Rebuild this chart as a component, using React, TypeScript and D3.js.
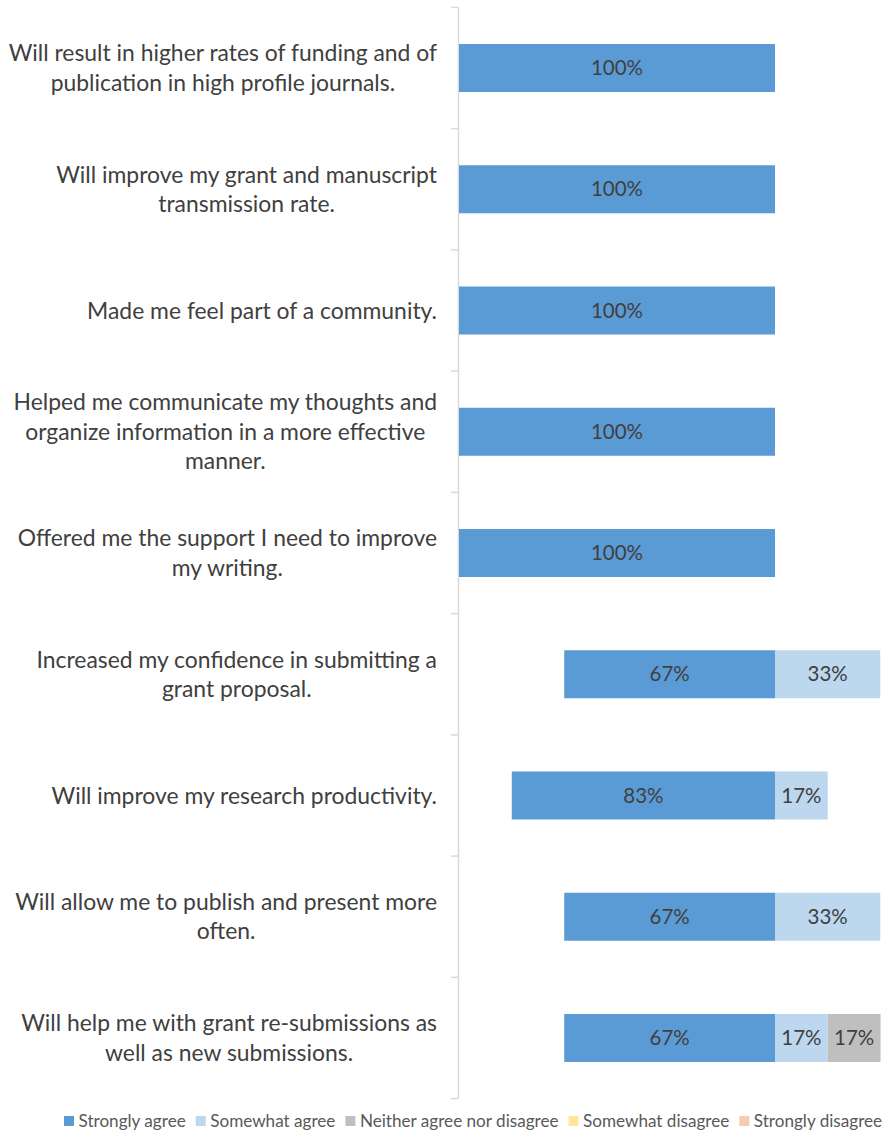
import React, { useEffect, useRef } from "react";
import * as d3 from "d3";

const categories = [
  "Will result in higher rates of funding and of\npublication in high profile journals.",
  "Will improve my grant and manuscript\ntransmission rate.",
  "Made me feel part of a community.",
  "Helped me communicate my thoughts and\norganize information in a more effective\nmanner.",
  "Offered me the support I need to improve\nmy writing.",
  "Increased my confidence in submitting a\ngrant proposal.",
  "Will improve my research productivity.",
  "Will allow me to publish and present more\noften.",
  "Will help me with grant re-submissions as\nwell as new submissions.",
];
const stronglyAgree = [100, 100, 100, 100, 100, 66.7, 83.3, 66.7, 66.7];
const somewhatAgree = [0, 0, 0, 0, 0, 33.3, 16.7, 33.3, 16.7];
const neither = [0, 0, 0, 0, 0, 0, 0, 0, 16.7];
const somewhatDisagree = [0, 0, 0, 0, 0, 0, 0, 0, 0];
const stronglyDisagree = [0, 0, 0, 0, 0, 0, 0, 0, 0];
const seriesNames = [
  "Strongly agree",
  "Somewhat agree",
  "Neither agree nor disagree",
  "Somewhat disagree",
  "Strongly disagree",
];
const colors = ["#5B9BD5", "#BDD7EE", "#BFBFBF", "#FFE699", "#F8CBAD"];

const W = 889;
const H = 1134;
const FONT = "Lato, 'Open Sans', sans-serif";

export default function App() {
  const ref = useRef<SVGSVGElement>(null);
  useEffect(() => {
    const svg = d3.select(ref.current);
    svg.selectAll("*").remove();

    const x = d3.scaleLinear().domain([-100, 0]).range([459, 775]);
    const y = d3
      .scaleBand<number>()
      .domain(d3.range(categories.length))
      .range([7.4, 1098.6])
      .paddingInner(0.604)
      .paddingOuter(0.302);

    svg
      .append("line")
      .attr("x1", 458.5)
      .attr("x2", 458.5)
      .attr("y1", y.range()[0])
      .attr("y2", y.range()[1])
      .attr("stroke", "#D9D9D9")
      .attr("stroke-width", 1.5);
    const step = y.step();
    const ticks = d3.range(categories.length + 1).map((i) => y.range()[0] + i * step);
    svg
      .selectAll("line.tick")
      .data(ticks)
      .enter()
      .append("line")
      .attr("class", "tick")
      .attr("x1", 451)
      .attr("x2", 458.5)
      .attr("y1", (d) => d)
      .attr("y2", (d) => d)
      .attr("stroke", "#D9D9D9")
      .attr("stroke-width", 1.5);

    const allSeries = [stronglyAgree, somewhatAgree, neither, somewhatDisagree, stronglyDisagree];
    categories.forEach((_, i) => {
      const segs: { x0: number; x1: number; v: number; c: string }[] = [];
      segs.push({ x0: -stronglyAgree[i], x1: 0, v: stronglyAgree[i], c: colors[0] });
      let acc = 0;
      for (let s = 1; s < allSeries.length; s++) {
        const v = allSeries[s][i];
        segs.push({ x0: acc, x1: acc + v, v, c: colors[s] });
        acc += v;
      }
      segs.forEach((sg) => {
        if (sg.v <= 0) return;
        svg
          .append("rect")
          .attr("x", x(sg.x0))
          .attr("y", y(i)!)
          .attr("width", x(sg.x1) - x(sg.x0))
          .attr("height", y.bandwidth())
          .attr("fill", sg.c);
        svg
          .append("text")
          .attr("x", (x(sg.x0) + x(sg.x1)) / 2)
          .attr("y", y(i)! + y.bandwidth() / 2)
          .attr("dy", "0.35em")
          .attr("text-anchor", "middle")
          .attr("font-family", FONT)
          .attr("font-size", 20.5)
          .attr("fill", "#404040")
          .text(Math.round(sg.v) + "%");
      });

      const lines = categories[i].split("\n");
      const cy = y(i)! + y.bandwidth() / 2;
      const lh = 29.5;
      const g = svg.append("g");
      const texts = lines.map((ln, k) =>
        g
          .append("text")
          .attr("y", cy + (k - (lines.length - 1) / 2) * lh)
          .attr("dy", "0.35em")
          .attr("text-anchor", "middle")
          .attr("font-family", FONT)
          .attr("font-size", 22.9)
          .attr("fill", "#404040")
          .text(ln)
      );
      const maxW = d3.max(texts, (t) => (t.node() as SVGTextElement).getComputedTextLength()) || 0;
      texts.forEach((t) => t.attr("x", 437 - maxW / 2));
    });

    // legend
    const lg = svg.append("g");
    const items = seriesNames.map((n, s) => {
      const r = lg
        .append("rect")
        .attr("y", 1116)
        .attr("width", 10)
        .attr("height", 10)
        .attr("fill", colors[s]);
      const t = lg
        .append("text")
        .attr("y", 1121)
        .attr("dy", "0.35em")
        .attr("font-family", FONT)
        .attr("font-size", 17)
        .attr("fill", "#595959")
        .text(n);
      return { r, t };
    });
    const sum0 = d3.sum(items, (it) => (it.t.node() as SVGTextElement).getComputedTextLength());
    const fs = (17 * 706) / sum0;
    let lx = 64;
    items.forEach((it) => {
      it.t.attr("font-size", fs);
      it.r.attr("x", lx);
      it.t.attr("x", lx + 14.5);
      lx += 14.5 + (it.t.node() as SVGTextElement).getComputedTextLength() + 10;
    });
  }, []);
  return (
    <svg
      ref={ref}
      width={W}
      height={H}
      style={{ position: "absolute", left: 0, top: 0, background: "#fff" }}
    />
  );
}
